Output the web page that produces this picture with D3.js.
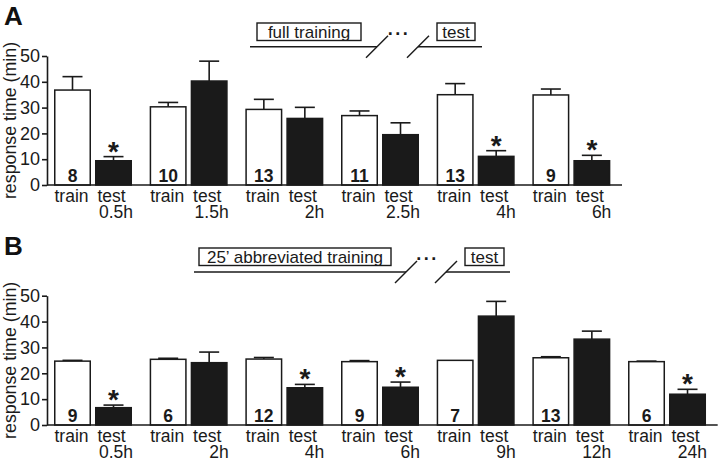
<!DOCTYPE html>
<html>
<head>
<meta charset="utf-8">
<script src="https://cdn.jsdelivr.net/npm/d3@7"></script>
<style>
html,body{margin:0;padding:0;background:#fff;}
svg{display:block;font-family:"Liberation Sans",Arial,Helvetica,sans-serif;}
</style>
</head>
<body>
<svg id="chart" width="720" height="463"></svg>
<script>
// Panel A: full training
const A_groups = ['0.5h','1.5h','2h','2.5h','4h','6h'];
const A_train = [36.8,30.3,29.3,26.9,35.0,34.9];
const A_trainErr = [5.2,1.7,3.9,1.8,4.3,2.3];
const A_test = [9.4,40.3,25.8,19.5,11.1,9.4];
const A_testErr = [1.6,7.7,4.3,4.6,2.2,2.1];
const A_n = [8,10,13,11,13,9];
const A_sig = [true,false,false,false,true,true];

// Panel B: 25' abbreviated training
const B_groups = ['0.5h','2h','4h','6h','9h','12h','24h'];
const B_train = [24.7,25.4,25.5,24.5,25.0,26.0,24.5];
const B_trainErr = [0.3,0.4,0.6,0.4,0,0.4,0.2];
const B_test = [6.7,24.1,14.4,14.6,42.1,33.2,11.9];
const B_testErr = [1.0,4.1,1.3,2.0,5.7,3.1,1.9];
const B_n = [9,6,12,9,7,13,6];
const B_sig = [true,false,true,true,false,false,true];

const yTicks = [0,10,20,30,40,50];
const conditions = ['train','test'];

const svg = d3.select('#chart');
const FONT = 17.5;
const step = 95.67;

function panel(opt){
  const g = svg.append('g');
  const x0 = opt.axisX;
  const n = opt.groups.length;
  const xg = d3.scaleBand().domain(d3.range(n)).range([x0, x0 + step*n]).paddingInner(0).paddingOuter(0);
  const xs = d3.scaleBand().domain(conditions).range([7, 85]).paddingInner(0.0976).paddingOuter(0);
  const y = d3.scaleLinear().domain([0,50]).range([opt.y0, opt.y50]);

  // y axis
  const ya = g.append('g').attr('transform',`translate(${x0},0)`)
    .call(d3.axisLeft(y).tickValues(yTicks).tickSize(5).tickPadding(2).tickSizeOuter(0));
  ya.select('.domain').attr('stroke','#1a1a1a').attr('stroke-width',1.6);
  ya.selectAll('.tick line').attr('stroke','#1a1a1a').attr('stroke-width',1.6);
  ya.selectAll('.tick text').attr('font-size',FONT+0.5).attr('fill','#1a1a1a').attr('font-family','"Liberation Sans",Arial,sans-serif');

  // y label
  g.append('text')
    .attr('transform',`translate(15.5,${(opt.y0+opt.y50)/2}) rotate(-90)`)
    .attr('text-anchor','middle').attr('font-size',17.8).attr('fill','#1a1a1a')
    .text('response time (min)');

  const rows = [];
  for(let i=0;i<n;i++){
    rows.push({i, cond:'train', v:opt.train[i], e:opt.trainErr[i]});
    rows.push({i, cond:'test', v:opt.test[i], e:opt.testErr[i]});
  }
  const bx = d => xg(d.i) + xs(d.cond);
  const bw = xs.bandwidth();

  // error bars (upper only)
  const eb = g.append('g').selectAll('g').data(rows.filter(d=>d.e>0)).join('g');
  eb.append('line')
    .attr('x1',d=>bx(d)+bw/2).attr('x2',d=>bx(d)+bw/2)
    .attr('y1',d=>y(d.v)).attr('y2',d=>y(d.v+d.e))
    .attr('stroke','#1a1a1a').attr('stroke-width',1.6);
  eb.append('line')
    .attr('x1',d=>bx(d)+bw/2-10).attr('x2',d=>bx(d)+bw/2+10)
    .attr('y1',d=>y(d.v+d.e)).attr('y2',d=>y(d.v+d.e))
    .attr('stroke','#1a1a1a').attr('stroke-width',1.6);

  // bars
  g.append('g').selectAll('rect').data(rows).join('rect')
    .attr('x',d=>bx(d)+0.75).attr('width',bw-1.5)
    .attr('y',d=>y(d.v)).attr('height',d=>y(0)-y(d.v))
    .attr('fill',d=>d.cond==='train'?'#fff':'#1a1a1a')
    .attr('stroke','#1a1a1a').attr('stroke-width',1.5);

  // x axis line
  g.append('line').attr('x1',x0).attr('x2',x0+step*n+1)
    .attr('y1',y(0)).attr('y2',y(0))
    .attr('stroke','#1a1a1a').attr('stroke-width',1.6);

  // n labels
  g.append('g').selectAll('text').data(rows.filter(d=>d.cond==='train')).join('text')
    .attr('x',d=>bx(d)+bw/2).attr('y',y(0)-3)
    .attr('text-anchor','middle').attr('font-size',17.5).attr('font-weight','bold').attr('fill','#1a1a1a')
    .text(d=>opt.nums[d.i]);

  // significance
  g.append('g').selectAll('text').data(rows.filter(d=>d.cond==='test' && opt.sig[d.i])).join('text')
    .attr('x',d=>bx(d)+bw/2).attr('y',d=>y(d.v+d.e)+4)
    .attr('text-anchor','middle').attr('font-size',28).attr('font-weight','bold').attr('fill','#1a1a1a')
    .text('*');

  // tick labels
  const tl = g.append('g').attr('fill','#1a1a1a').attr('font-size',FONT);
  tl.selectAll('text.c').data(rows).join('text').attr('class','c')
    .attr('x',d=>bx(d)+bw/2-(d.cond==='test'?2:1)).attr('y',y(0)+17)
    .attr('text-anchor','middle').text(d=>d.cond);
  tl.selectAll('text.t').data(opt.groups).join('text').attr('class','t')
    .attr('x',(d,i)=>xg(i)+xs('test')+bw+1).attr('y',y(0)+33)
    .attr('text-anchor','end').text(d=>d);

  // panel letter
  g.append('text').attr('x',4).attr('y',opt.letterY).attr('font-size',26).attr('font-weight','bold')
    .attr('fill','#111').text(opt.letter);

  // schema
  const s = opt.schema;
  const sg = g.append('g').attr('stroke','#1a1a1a').attr('fill','none').attr('stroke-width',1.4);
  sg.append('rect').attr('x',s.b1[0]).attr('y',s.by).attr('width',s.b1[1]-s.b1[0]).attr('height',17.5);
  sg.append('rect').attr('x',s.b2[0]).attr('y',s.by).attr('width',s.b2[1]-s.b2[0]).attr('height',17.5);
  sg.append('line').attr('x1',s.l1[0]).attr('x2',s.l1[1]).attr('y1',s.ly).attr('y2',s.ly);
  sg.append('line').attr('x1',s.l2[0]).attr('x2',s.l2[1]).attr('y1',s.ly).attr('y2',s.ly);
  [s.sl1, s.sl2].forEach(cx=>{
    sg.append('line').attr('x1',cx-11).attr('x2',cx+11).attr('y1',s.ly+11).attr('y2',s.ly-11);
  });
  const tg = g.append('g').attr('fill','#1a1a1a').attr('font-size',17);
  tg.append('text').attr('x',(s.b1[0]+s.b1[1])/2).attr('y',s.by+14.5).attr('text-anchor','middle').text(s.t1);
  tg.append('text').attr('x',(s.b2[0]+s.b2[1])/2).attr('y',s.by+14.5).attr('text-anchor','middle').text('test');
  tg.append('text').attr('x',(s.sl1+s.sl2)/2+1.5).attr('y',s.ly-12).attr('text-anchor','middle')
    .attr('font-weight','bold').attr('font-size',18).attr('letter-spacing',2.5).text('...');
}

panel({
  letter:'A', letterY:25, axisX:47, y0:185, y50:56,
  groups:A_groups, train:A_train, trainErr:A_trainErr, test:A_test, testErr:A_testErr, nums:A_n, sig:A_sig,
  schema:{b1:[257,361], b2:[437,475], by:23, ly:46.7, l1:[250,377], l2:[418,482], sl1:377, sl2:418, t1:'full training'}
});
panel({
  letter:'B', letterY:255, axisX:47, y0:425, y50:295.7,
  groups:B_groups, train:B_train, trainErr:B_trainErr, test:B_test, testErr:B_testErr, nums:B_n, sig:B_sig,
  schema:{b1:[199,391], b2:[465,504], by:248, ly:272, l1:[194,406], l2:[446,510], sl1:406, sl2:446, t1:'25\u2019 abbreviated training'}
});
</script>
</body>
</html>
